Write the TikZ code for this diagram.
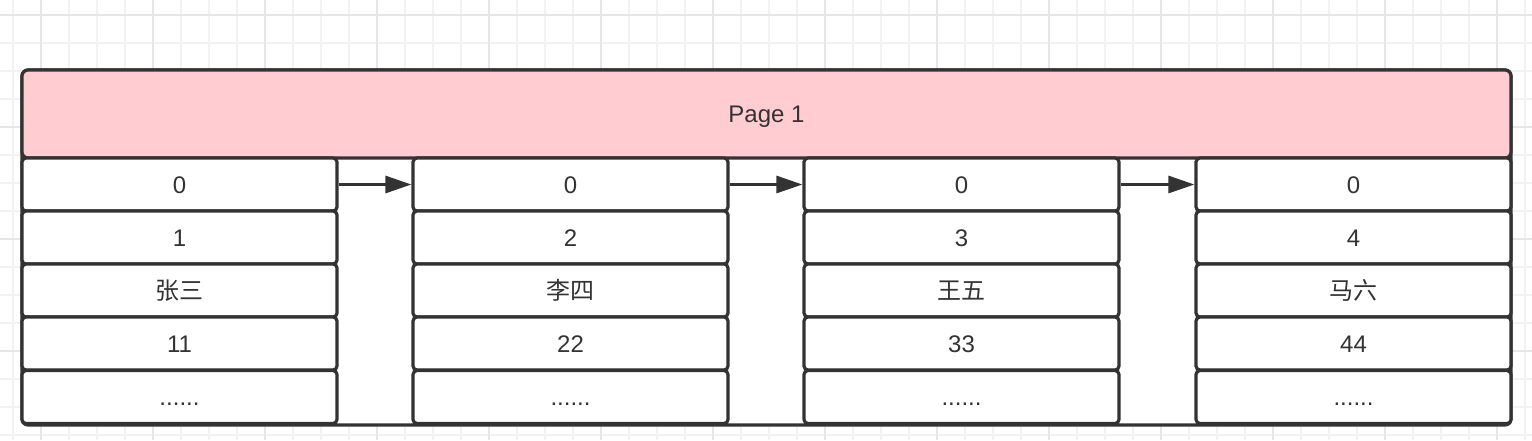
\documentclass[tikz,border=0pt]{standalone}
\usepackage{fontspec}
\setmainfont{Liberation Sans}
\newfontfamily\cjk{Noto Sans CJK SC}
\usetikzlibrary{arrows.meta}

\definecolor{linegray}{HTML}{333333}
\definecolor{pagepink}{HTML}{FFCCD2}
\definecolor{gridminor}{HTML}{F2F2F2}
\definecolor{gridmajor}{HTML}{E6E6E6}

\begin{document}
\begin{tikzpicture}[x=1pt, y=-1pt,
    cell/.style={draw=linegray, line width=3.2pt, rounded corners=4pt, fill=white,
        minimum width=315pt, minimum height=53pt, inner sep=0pt,
        text height=17pt, text depth=0pt,
        text=linegray, font=\fontsize{24}{28}\selectfont},
    page/.style={cell, fill=pagepink, rounded corners=6pt,
        minimum width=1489pt, minimum height=88pt},
    frame/.style={draw=linegray, line width=3.2pt, rounded corners=6pt, fill=white,
        minimum width=1489pt, minimum height=355pt, inner sep=0pt},
    link/.style={draw=linegray, line width=3pt, -{Triangle[length=26pt, width=17pt]}}]

        \useasboundingbox (0,0) rectangle (1532,440);
        \fill[white] (0,0) rectangle (1532,440);

        % background grid
        \foreach \gx in {13,41,...,1532}
            \draw[gridminor, line width=1.5pt] (\gx,0) -- (\gx,440);
        \foreach \gy in {15,43,...,440}
            \draw[gridminor, line width=1.5pt] (0,\gy) -- (1532,\gy);
        \foreach \gx in {41,153,...,1532}
            \draw[gridmajor, line width=1.5pt] (\gx,0) -- (\gx,440);
        \foreach \gy in {15,127,...,440}
            \draw[gridmajor, line width=1.5pt] (0,\gy) -- (1532,\gy);

        \node[frame] (frame) at (766.5, 247.5) {};
        \node[page] (page) at (766.5, 114) {Page 1};

        % one column of cells per record
        \foreach \c/\cx/\id/\nm/\age in {1/179.5/1/张三/11, 2/570.5/2/李四/22,
                                         3/961.5/3/王五/33, 4/1353.5/4/马六/44} {
            \node[cell] (c\c r1) at (\cx, 184.5) {0};
            \node[cell] (c\c r2) at (\cx, 237.5) {\id};
            \node[cell] (c\c r3) at (\cx, 290.5) {{\cjk \nm}};
            \node[cell] (c\c r4) at (\cx, 343.5) {\age};
            \node[cell] (c\c r5) at (\cx, 397) {......};
        }

        \foreach \a/\b in {1/2, 2/3, 3/4}
            \draw[link] (c\a r1) -- (c\b r1);
    \end{tikzpicture}
\end{document}
